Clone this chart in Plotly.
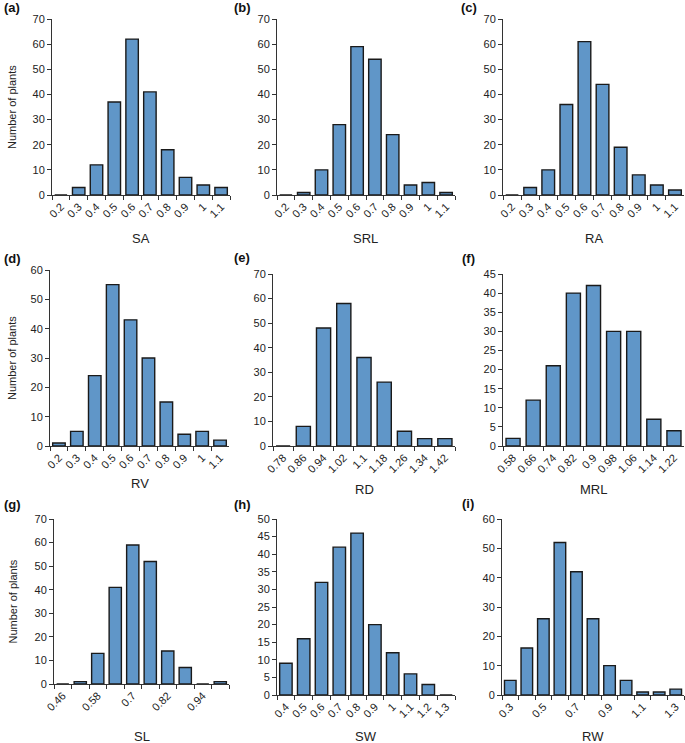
import plotly.graph_objects as go

W, H = 685, 743

# ---------------- data ----------------
sa_bins = ["0.2", "0.3", "0.4", "0.5", "0.6", "0.7", "0.8", "0.9", "1", "1.1"]
sa_counts = [0, 3, 12, 37, 62, 41, 18, 7, 4, 3]

srl_bins = ["0.2", "0.3", "0.4", "0.5", "0.6", "0.7", "0.8", "0.9", "1", "1.1"]
srl_counts = [0, 1, 10, 28, 59, 54, 24, 4, 5, 1]

ra_bins = ["0.2", "0.3", "0.4", "0.5", "0.6", "0.7", "0.8", "0.9", "1", "1.1"]
ra_counts = [0, 3, 10, 36, 61, 44, 19, 8, 4, 2]

rv_bins = ["0.2", "0.3", "0.4", "0.5", "0.6", "0.7", "0.8", "0.9", "1", "1.1"]
rv_counts = [1, 5, 24, 55, 43, 30, 15, 4, 5, 2]

rd_bins = ["0.78", "0.86", "0.94", "1.02", "1.1", "1.18", "1.26", "1.34", "1.42"]
rd_counts = [0, 8, 48, 58, 36, 26, 6, 3, 3]

mrl_bins = ["0.58", "0.66", "0.74", "0.82", "0.9", "0.98", "1.06", "1.14", "1.22"]
mrl_counts = [2, 12, 21, 40, 42, 30, 30, 7, 4]

sl_bins = ["0.46", "0.52", "0.58", "0.64", "0.7", "0.76", "0.82", "0.88", "0.94", "1"]
sl_counts = [0, 1, 13, 41, 59, 52, 14, 7, 0, 1]
sl_labels = ["0.46", "", "0.58", "", "0.7", "", "0.82", "", "0.94", ""]

sw_bins = ["0.4", "0.5", "0.6", "0.7", "0.8", "0.9", "1", "1.1", "1.2", "1.3"]
sw_counts = [9, 16, 32, 42, 46, 20, 12, 6, 3, 0]

rw_bins = ["0.3", "0.4", "0.5", "0.6", "0.7", "0.8", "0.9", "1", "1.1", "1.2", "1.3"]
rw_counts = [5, 16, 26, 52, 42, 26, 10, 5, 1, 1, 2]
rw_labels = ["0.3", "", "0.5", "", "0.7", "", "0.9", "", "1.1", "", "1.3"]

panels = [
    # letter, xtitle, bins, counts, labels, ymax, dtick, plot box (x0,x1,y0,y1 in px)
    ("(a)", "SA", sa_bins, sa_counts, sa_bins, 70, 10, (52, 230, 19, 195)),
    ("(b)", "SRL", srl_bins, srl_counts, srl_bins, 70, 10, (277, 455, 19, 195)),
    ("(c)", "RA", ra_bins, ra_counts, ra_bins, 70, 10, (503, 684, 19, 195)),
    ("(d)", "RV", rv_bins, rv_counts, rv_bins, 60, 10, (50, 229, 270, 446)),
    ("(e)", "RD", rd_bins, rd_counts, rd_bins, 70, 10, (273, 455, 274, 446)),
    ("(f)", "MRL", mrl_bins, mrl_counts, mrl_bins, 45, 5, (503, 684, 274, 446)),
    ("(g)", "SL", sl_bins, sl_counts, sl_labels, 70, 10, (54, 229, 519, 684)),
    ("(h)", "SW", sw_bins, sw_counts, sw_bins, 50, 5, (277, 455, 519, 695)),
    ("(i)", "RW", rw_bins, rw_counts, rw_labels, 60, 10, (502, 684, 519, 695)),
]

letter_pos = [(2, 8), (232, 8), (459, 8),
              (2, 259), (232, 257), (460, 259),
              (2, 505), (232, 505), (460, 503)]
title_y = [238, 238, 238, 483, 489, 489, 736, 736, 736]

BAR = "#6096C8"
EDGE = "#1a1a1a"
AX = "#333333"
FONT = "Liberation Sans, Arial, sans-serif"

fig = go.Figure()
annotations = []
layout = {}

for i, (letter, xt, bins, counts, labels, ymax, dt, box) in enumerate(panels):
    n = i + 1
    xa = "x" if n == 1 else f"x{n}"
    ya = "y" if n == 1 else f"y{n}"
    x0, x1, y0, y1 = box
    fig.add_trace(go.Bar(
        x=bins, y=counts, xaxis=xa, yaxis=ya,
        marker=dict(color=BAR, line=dict(color=EDGE, width=1.4)),
        showlegend=False, hoverinfo="x+y",
    ))
    xkey = "xaxis" if n == 1 else f"xaxis{n}"
    ykey = "yaxis" if n == 1 else f"yaxis{n}"
    layout[xkey] = dict(
        domain=[x0 / W, x1 / W], anchor=ya, type="category",
        categoryorder="array", categoryarray=bins,
        range=[-0.5, len(bins) - 0.5],
        tickmode="array", tickvals=bins, ticktext=labels,
        tickson="boundaries", ticks="outside", ticklen=4, tickwidth=1,
        tickcolor=AX, showline=True, linecolor=AX, linewidth=1,
        tickangle=-45, tickfont=dict(family=FONT, size=11, color="#222"),
        showgrid=False, zeroline=False, fixedrange=True, automargin=False,
    )
    layout[ykey] = dict(
        domain=[1 - y1 / H, 1 - y0 / H], anchor=xa,
        range=[0, ymax], dtick=dt, tick0=0,
        ticks="outside", ticklen=4, tickwidth=1, tickcolor=AX,
        showline=True, linecolor=AX, linewidth=1,
        tickfont=dict(family=FONT, size=11, color="#222"),
        showgrid=False, zeroline=False, fixedrange=True, automargin=False,
    )
    # panel letter
    lx, ly = letter_pos[i]
    annotations.append(dict(
        text=f"<b>{letter}</b>", x=lx / W, y=1 - ly / H, xref="paper", yref="paper",
        xanchor="left", yanchor="middle", showarrow=False,
        font=dict(family=FONT, size=13, color="#111"),
    ))
    # x title
    annotations.append(dict(
        text=xt, x=((x0 + x1) / 2) / W, y=1 - title_y[i] / H, xref="paper", yref="paper",
        xanchor="center", yanchor="middle", showarrow=False,
        font=dict(family=FONT, size=13, color="#222"),
    ))
    if letter in ("(a)", "(d)", "(g)"):
        annotations.append(dict(
            text="Number of plants", x=12 / W, y=1 - ((y0 + y1) / 2) / H,
            xref="paper", yref="paper", textangle=-90,
            xanchor="center", yanchor="middle", showarrow=False,
            font=dict(family=FONT, size=11, color="#222"),
        ))

fig.update_layout(
    template="none",
    width=W, height=H, margin=dict(l=0, r=0, t=0, b=0, pad=0),
    paper_bgcolor="white", plot_bgcolor="white",
    bargap=0.3, annotations=annotations, **layout,
)

fig.write_html(
    "out.html",
    config={"displayModeBar": False},
    post_script="document.body.style.margin='0';document.body.style.overflow='hidden';",
)
